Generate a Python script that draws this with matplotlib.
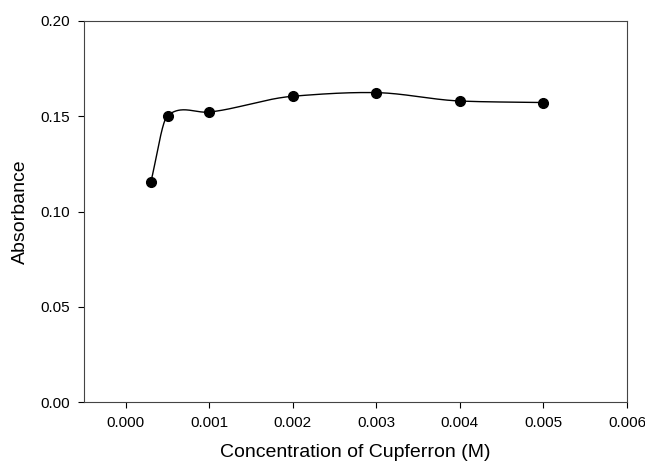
import numpy as np
import matplotlib.pyplot as plt

plt.rcParams['font.family'] = ['Liberation Sans', 'DejaVu Sans']

# Data
conc = [0.0003, 0.0005, 0.001, 0.002, 0.003, 0.004, 0.005]
absorb = [0.1155, 0.1503, 0.1522, 0.1605, 0.1624, 0.1580, 0.1572]


def hermite_curve(x, y, tension=0.7, n=60):
    # cardinal-style spline: tangents from neighbouring points, scaled down
    x = np.asarray(x, float)
    y = np.asarray(y, float)
    k = len(x)
    m = np.zeros(k)
    m[0] = (y[1] - y[0]) / (x[1] - x[0])
    m[-1] = (y[-1] - y[-2]) / (x[-1] - x[-2])
    for i in range(1, k - 1):
        m[i] = tension * (y[i + 1] - y[i - 1]) / (x[i + 1] - x[i - 1])
    xs_all, ys_all = [], []
    for i in range(k - 1):
        h = x[i + 1] - x[i]
        t = np.linspace(0, 1, n)
        h00 = 2 * t**3 - 3 * t**2 + 1
        h10 = t**3 - 2 * t**2 + t
        h01 = -2 * t**3 + 3 * t**2
        h11 = t**3 - t**2
        xs_all.append(x[i] + t * h)
        ys_all.append(h00 * y[i] + h10 * h * m[i] + h01 * y[i + 1] + h11 * h * m[i + 1])
    return np.concatenate(xs_all), np.concatenate(ys_all)


fig = plt.figure(figsize=(6.45, 4.62), dpi=100)
ax = fig.add_axes([84 / 645, 60 / 462, 543 / 645, 381 / 462])

xs, ys = hermite_curve(conc, absorb)
ax.plot(xs, ys, color="black", linewidth=1)
ax.plot(conc, absorb, "o", color="black", markersize=7)

ax.set_xlim(-0.0005, 0.006)
ax.set_ylim(0, 0.20)
ax.set_xticks(np.arange(0, 0.0061, 0.001))
ax.set_xticklabels(["%.3f" % v for v in np.arange(0, 0.0061, 0.001)])
ax.set_yticks(np.arange(0, 0.201, 0.05))
ax.set_yticklabels(["%.2f" % v for v in np.arange(0, 0.201, 0.05)])
ax.tick_params(direction="out", length=4, width=0.8, labelsize=11, pad=6)
for s in ax.spines.values():
    s.set_linewidth(0.8)
    s.set_color("#444444")

ax.set_xlabel("Concentration of Cupferron (M)", fontsize=14, labelpad=10)
ax.set_ylabel("Absorbance", fontsize=14, labelpad=8)

plt.savefig("out.png", dpi=100)
